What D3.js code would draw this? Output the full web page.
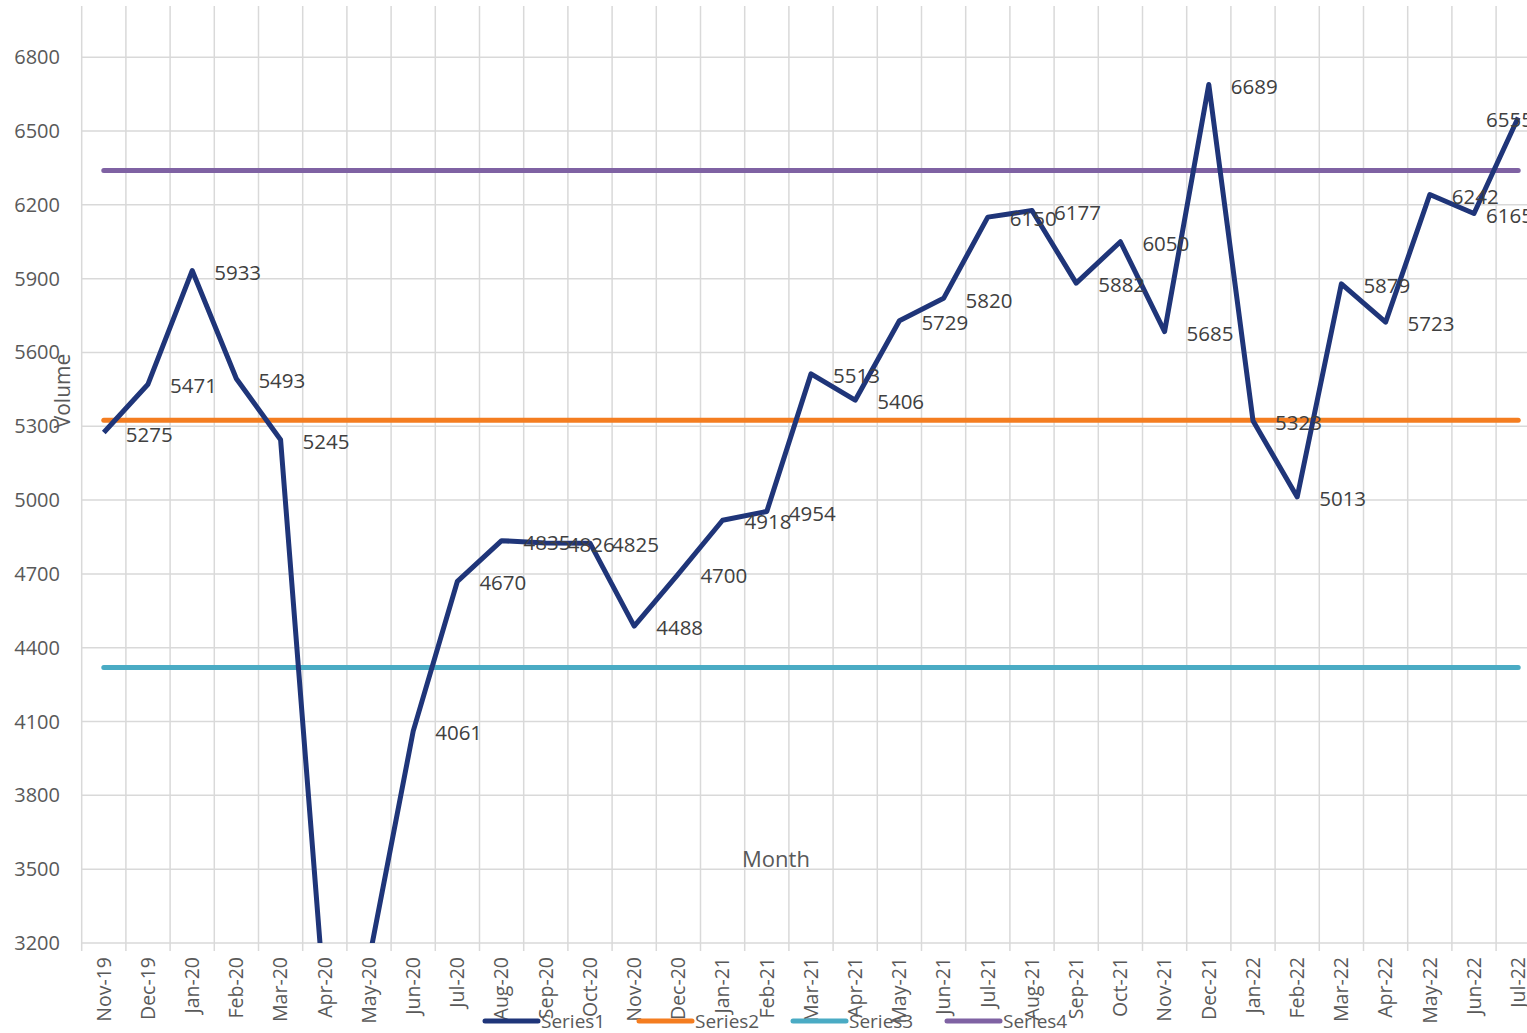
<!DOCTYPE html>
<html>
<head>
<meta charset="utf-8">
<script src="https://cdn.jsdelivr.net/npm/d3@7"></script>
<style>
  html, body { margin: 0; padding: 0; background: #fff; overflow: hidden; }
  svg { display: block; font-family: "Open Sans", "Noto Sans", sans-serif; }
</style>
</head>
<body>
<svg id="chart"></svg>
<script>
//Data
const months = ["Nov-19","Dec-19","Jan-20","Feb-20","Mar-20","Apr-20","May-20","Jun-20","Jul-20","Aug-20","Sep-20","Oct-20",
  "Nov-20","Dec-20","Jan-21","Feb-21","Mar-21","Apr-21","May-21","Jun-21","Jul-21","Aug-21","Sep-21","Oct-21",
  "Nov-21","Dec-21","Jan-22","Feb-22","Mar-22","Apr-22","May-22","Jun-22","Jul-22"];
const series1 = [5275,5471,5933,5493,5245,2950,3130,4061,4670,4835,4826,4825,
  4488,4700,4918,4954,5513,5406,5729,5820,6150,6177,5882,6050,
  5685,6689,5323,5013,5879,5723,6242,6165,6555];
// flat reference series (Series2, Series3, Series4)
const refNames = ["Series2","Series3","Series4"];
const refValues = [5325, 4320, 6340];
const yTicks = [3200,3500,3800,4100,4400,4700,5000,5300,5600,5900,6200,6500,6800];
const legendNames = ["Series1","Series2","Series3","Series4"];

//Dimensions
const width = 1527, height = 1033;
const plotLeft = 81.7, plotRight = 1540.3, plotTop = 8, plotBottom = 943;
const chartRight = 1533;
const colors = ["#1f3579", "#f47d20", "#4aabc4", "#7f62a3"];

const svg = d3.select("#chart").attr("width", width).attr("height", height);

const x = d3.scaleBand().domain(months).range([plotLeft, plotRight]).padding(0);
const y = d3.scaleLinear().domain([3200, 7000]).range([plotBottom, plotTop]);
const cx = d => x(d) + x.bandwidth() / 2;

svg.append("defs").append("clipPath").attr("id", "plotClip")
  .append("rect").attr("x", plotLeft).attr("y", plotTop)
  .attr("width", plotRight - plotLeft).attr("height", plotBottom - plotTop);

//Gridlines
const grid = svg.append("g");
grid.selectAll("line.h").data(yTicks).enter().append("line")
  .attr("x1", plotLeft).attr("x2", plotRight)
  .attr("y1", d => y(d)).attr("y2", d => y(d))
  .attr("stroke", "#d9d9d9").attr("stroke-width", 1.5);
const bounds = months.map(m => x(m)).concat([plotRight]);
grid.selectAll("line.v").data(bounds).enter().append("line")
  .attr("x1", d => d).attr("x2", d => d)
  .attr("y1", plotTop - 2).attr("y2", plotBottom + 8)
  .attr("stroke", "#d9d9d9").attr("stroke-width", 1.5);

//Y axis labels
svg.append("g").selectAll("text").data(yTicks).enter().append("text")
  .attr("x", 60).attr("y", d => y(d)).attr("dy", "0.35em")
  .attr("text-anchor", "end").attr("font-size", 20).attr("fill", "#595959")
  .text(d => d);

//X axis labels
svg.append("g").selectAll("text").data(months).enter().append("text")
  .attr("transform", d => `translate(${cx(d)},${plotBottom + 14}) rotate(-90)`)
  .attr("dy", "0.35em").attr("text-anchor", "end")
  .attr("font-size", 19.5).attr("fill", "#595959")
  .text(d => d);

//Reference lines
svg.append("g").selectAll("line").data(refValues).enter().append("line")
  .attr("x1", cx(months[0])).attr("x2", cx(months[months.length - 1]))
  .attr("y1", d => y(d)).attr("y2", d => y(d))
  .attr("stroke", (d, i) => colors[i + 1]).attr("stroke-width", 5)
  .attr("stroke-linecap", "round");

//Main series
const line = d3.line().x((d, i) => cx(months[i])).y(d => y(d));
svg.append("path").datum(series1)
  .attr("clip-path", "url(#plotClip)")
  .attr("d", line).attr("fill", "none")
  .attr("stroke", colors[0]).attr("stroke-width", 5)
  .attr("stroke-linejoin", "round");

//Data labels
const labels = svg.append("g").attr("font-size", 20.5).attr("fill", "#404040");
series1.forEach((v, i) => {
  if (v < 3200) return;
  const t = labels.append("text")
    .attr("y", y(v) + 2).attr("dy", "0.35em").text(v);
  const w = t.node().getComputedTextLength();
  t.attr("x", Math.min(cx(months[i]) + 22, chartRight - w));
});

//Axis titles
svg.append("text")
  .attr("transform", `translate(63,391) rotate(-90)`)
  .attr("text-anchor", "middle").attr("dy", "0.35em")
  .attr("font-size", 21).attr("fill", "#595959").text("Volume");
svg.append("text")
  .attr("x", 776).attr("y", 859).attr("dy", "0.35em")
  .attr("text-anchor", "middle").attr("font-size", 22).attr("fill", "#595959").text("Month");

//Legend
const legend = svg.append("g").selectAll("g").data(legendNames).enter().append("g")
  .attr("transform", (d, i) => `translate(${485 + i * 154},1021)`);
legend.append("line").attr("x1", 0).attr("x2", 53)
  .attr("stroke", (d, i) => colors[i]).attr("stroke-width", 5).attr("stroke-linecap", "round");
legend.append("text").attr("x", 56).attr("dy", "0.35em")
  .attr("font-size", 19).attr("fill", "#595959").text(d => d);
</script>
</body>
</html>
